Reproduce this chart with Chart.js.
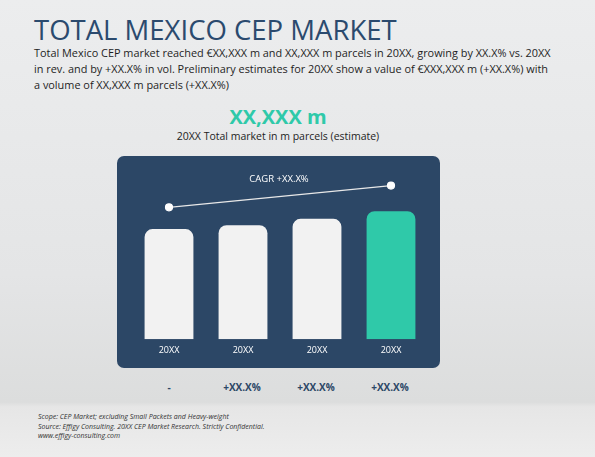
<!DOCTYPE html><html><head><meta charset="utf-8">
<script src="https://cdn.jsdelivr.net/npm/chart.js@4"></script>
<style>
body{margin:0;width:595px;height:457px;overflow:hidden;font-family:"Open Sans",sans-serif;background:linear-gradient(180deg,#ecedee 0%,#e4e5e6 60%,#dcdddd 88%,#e6e6e6 89%,#ededed 100%);position:relative}
.a{position:absolute;white-space:nowrap}
#panel{position:absolute;left:117px;top:156px;width:323px;height:212px;background:#2c4766;border-radius:7px}
</style></head><body>
<div class="a" style="left:34px;top:11px;font-size:27.5px;color:#2b4a6e">TOTAL MEXICO CEP MARKET</div>
<div class="a" style="left:34px;top:45px;font-size:10.9px;line-height:16px;color:#1e1e1e">Total Mexico CEP market reached €XX,XXX m and XX,XXX m parcels in 20XX, growing by XX.X% vs. 20XX<br>in rev. and by +XX.X% in vol. Preliminary estimates for 20XX show a value of €XXX,XXX m (+XX.X%) with<br>a volume of XX,XXX m parcels (+XX.X%)</div>
<div class="a" style="left:178px;width:200px;text-align:center;top:103px;font-size:20px;font-weight:bold;color:#2fc9a9">XX,XXX m</div>
<div class="a" style="left:128px;width:300px;text-align:center;top:129px;font-size:10.5px;color:#1e1e1e">20XX Total market in m parcels (estimate)</div>
<div id="panel"><canvas id="c" width="323" height="212"></canvas></div>
<div class="a" style="left:179px;width:200px;text-align:center;top:172px;font-size:9.5px;color:#fff">CAGR +XX.X%</div>
<div id="g"></div>
<div class="a" style="left:38px;top:412px;font-size:7px;line-height:9.5px;font-style:italic;color:#333">Scope: CEP Market; excluding Small Packets and Heavy-weight<br>Source: Effigy Consulting. 20XX CEP Market Research. Strictly Confidential.<br>www.effigy-consulting.com</div>
<script>
const categories=["20XX","20XX","20XX","20XX"];
const values=[86,89,94,100];
const cagrLine=[103,null,null,120];
const growth=["-","+XX.X%","+XX.X%","+XX.X%"];
const barColors=["#f2f2f2","#f2f2f2","#f2f2f2","#2fc9a9"];
const gx=[169,242,316,390];
const g=document.getElementById('g');
growth.forEach((t,i)=>{const d=document.createElement('div');d.className='a';d.style.cssText=`left:${gx[i]-50}px;width:100px;text-align:center;top:380px;font-size:10px;font-weight:bold;color:#2c4766`;d.textContent=t;g.appendChild(d);});
new Chart(document.getElementById('c'),{
data:{labels:categories,datasets:[
{type:'line',data:cagrLine,spanGaps:true,borderColor:'#e8e8e8',borderWidth:1.2,pointRadius:3.5,pointBackgroundColor:'#fff',pointBorderColor:'#fff'},
{type:'bar',data:values,backgroundColor:barColors,borderRadius:{topLeft:8,topRight:8},borderSkipped:'bottom',categoryPercentage:0.66,barPercentage:1}
]},
options:{responsive:false,animation:false,layout:{padding:{left:15,right:12,top:0,bottom:6}},
plugins:{legend:{display:false},tooltip:{enabled:false}},
scales:{y:{display:false,min:0,max:139},x:{grid:{display:false,drawTicks:false},border:{display:false},ticks:{color:'#fff',font:{size:9,family:'Open Sans'},padding:6}}}}
});
</script></body></html>
